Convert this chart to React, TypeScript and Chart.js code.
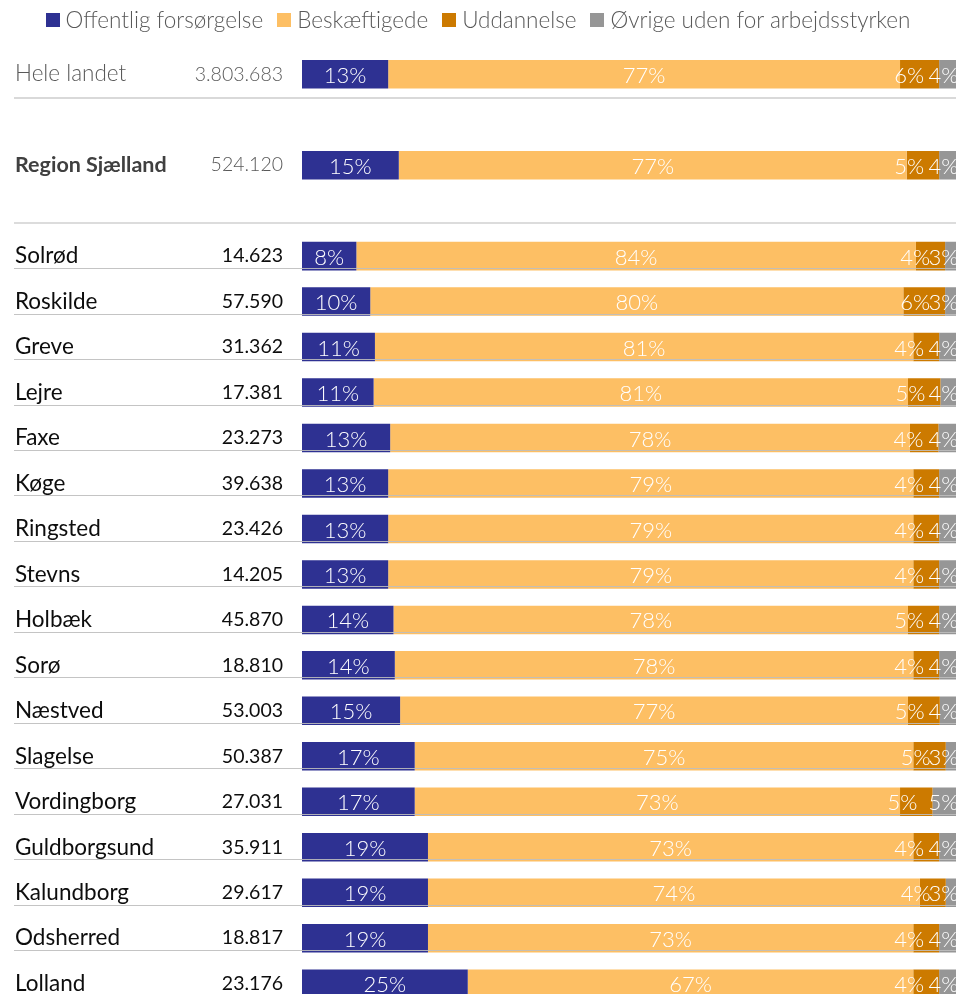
import React, { useEffect, useRef } from "react";
import { Chart, registerables } from "chart.js";

Chart.register(...registerables);

const names = [
  "Hele landet", "", "Region Sjælland", "", "Solrød", "Roskilde", "Greve", "Lejre", "Faxe", "Køge",
  "Ringsted", "Stevns", "Holbæk", "Sorø", "Næstved", "Slagelse", "Vordingborg", "Guldborgsund",
  "Kalundborg", "Odsherred", "Lolland",
];
const population = [
  3803683, null, 524120, null, 14623, 57590, 31362, 17381, 23273, 39638, 23426, 14205, 45870, 18810,
  53003, 50387, 27031, 35911, 29617, 18817, 23176,
];
const offentlig = [13.0, null, 14.6, null, 8.2, 10.3, 11.0, 10.8, 13.3, 13.0, 13.0, 13.0, 13.8, 14.0, 14.8, 17.0, 17.0, 19.0, 19.0, 19.0, 25.0];
const beskaeftigede = [77.2, null, 76.6, null, 84.4, 80.4, 81.2, 80.6, 78.4, 79.2, 79.2, 79.2, 77.6, 78.2, 76.6, 75.2, 73.2, 73.2, 74.2, 73.2, 67.2];
const uddannelse = [5.9, null, 4.9, null, 4.4, 6.3, 3.9, 4.9, 4.3, 3.9, 3.9, 3.9, 4.7, 3.9, 4.8, 4.9, 4.9, 3.9, 3.9, 3.9, 3.9];
const oevrige = [3.9, null, 3.9, null, 3.0, 3.0, 3.9, 3.7, 4.0, 3.9, 3.9, 3.9, 3.9, 3.9, 3.8, 2.9, 4.9, 3.9, 2.9, 3.9, 3.9];

const seriesNames = ["Offentlig forsørgelse", "Beskæftigede", "Uddannelse", "Øvrige uden for arbejdsstyrken"];
const seriesColors = ["#2E3192", "#FDBF64", "#CC7A00", "#969696"];

const FONT = "Lato";

function fmtThousands(v: number | null): string {
  if (v == null) return "";
  return String(v).replace(/\B(?=(\d{3})+(?!\d))/g, ".");
}
const populationLabels = population.map(fmtThousands);

function rowColor(i: number): string {
  if (i === 0) return "#595959";
  if (i === 2) return "#404040";
  return "#0d0d0d";
}

const valueLabelPlugin = {
  id: "valueLabels",
  afterDatasetsDraw(chart: any) {
    const ctx = chart.ctx;
    ctx.save();
    ctx.font = `300 22px ${FONT}`;
    ctx.fillStyle = "#ffffff";
    ctx.textAlign = "center";
    ctx.textBaseline = "middle";
    chart.data.datasets.forEach((ds: any, di: number) => {
      const meta = chart.getDatasetMeta(di);
      meta.data.forEach((bar: any, j: number) => {
        const v = ds.data[j];
        if (v == null) return;
        let x = (bar.x + bar.base) / 2;
        if (di === 2) x = bar.x - 30;
        if (di === 3) x = bar.x - 21.5;
        ctx.fillText(Math.round(v) + "%", x, bar.y + 1.5);
      });
    });
    ctx.restore();
  },
};

const rulesPlugin = {
  id: "rowRules",
  afterDatasetsDraw(chart: any) {
    const ctx = chart.ctx;
    const y = chart.scales.y;
    const right = chart.width;
    ctx.save();
    const line = (yy: number, color: string, w: number) => {
      ctx.strokeStyle = color;
      ctx.lineWidth = w;
      ctx.beginPath();
      ctx.moveTo(14, yy);
      ctx.lineTo(right, yy);
      ctx.stroke();
    };
    for (let i = 0; i < names.length; i++) {
      const c = y.getPixelForValue(i);
      if (i === 0) line(Math.round(c + 24), "#d9d9d9", 2);
      else if (i === 3) line(Math.round(c + 12), "#d0d0d0", 1.5);
      else if (i > 3) line(Math.round(c + 12) + 0.5, "rgba(190,190,190,0.9)", 1);
    }
    ctx.restore();
  },
};

export default function App() {
  const ref = useRef<HTMLCanvasElement | null>(null);

  useEffect(() => {
    if (!ref.current) return;
    const datasets = [offentlig, beskaeftigede, uddannelse, oevrige].map((d, i) => ({
      label: seriesNames[i],
      data: d,
      backgroundColor: seriesColors[i],
      borderWidth: 0,
      barPercentage: 0.627,
      categoryPercentage: 1,
    }));
    const chart = new Chart(ref.current, {
      type: "bar",
      data: { labels: names, datasets: datasets as any },
      options: {
        indexAxis: "y",
        animation: false,
        responsive: false,
        devicePixelRatio: 1,
        layout: { padding: { left: 15, right: 15, top: 51.5, bottom: 13.6 } },
        plugins: { legend: { display: false }, tooltip: { enabled: false } },
        scales: {
          x: { stacked: true, min: 0, max: 100, display: false },
          y: {
            stacked: true,
            position: "left",
            weight: 1,
            grid: { display: false, drawTicks: false, tickLength: 0 },
            border: { display: false },
            ticks: {
              crossAlign: "far",
              padding: 0,
              autoSkip: false,
              color: (c: any) => rowColor(c.index),
              font: (c: any) =>
                c.index === 2
                  ? { family: FONT, size: 21.5, weight: "bold" }
                  : { family: FONT, size: 22.5, weight: c.index === 0 ? "300" : "400" },
            },
            afterFit: (s: any) => {
              s.width = 175;
              s.paddingTop = 0;
              s.paddingBottom = 0;
            },
          },
          yNum: {
            type: "category",
            labels: populationLabels,
            position: "left",
            weight: 0,
            grid: { display: false, drawTicks: false, tickLength: 0 },
            border: { display: false },
            ticks: {
              crossAlign: "near",
              padding: 19,
              autoSkip: false,
              color: (c: any) => (c.index <= 2 ? "#595959" : "#0d0d0d"),
              font: (c: any) => ({ family: FONT, size: 19.5, weight: c.index <= 2 ? "300" : "400" }),
            },
            afterFit: (s: any) => {
              s.width = 112;
              s.paddingTop = 0;
              s.paddingBottom = 0;
            },
          },
        } as any,
      },
      plugins: [rulesPlugin, valueLabelPlugin],
    });
    return () => chart.destroy();
  }, []);

  return (
    <div
      style={{
        position: "fixed",
        left: 0,
        top: 0,
        width: 956,
        height: 994,
        overflow: "hidden",
        background: "#ffffff",
      }}
    >
      <canvas
        ref={ref}
        width={980}
        height={1020}
        style={{ position: "absolute", left: 0, top: 0, width: 980, height: 1020 }}
      />
      <div
        style={{
          position: "absolute",
          left: 0,
          top: 6,
          width: 956,
          display: "flex",
          justifyContent: "center",
          alignItems: "center",
          gap: 14,
          fontFamily: FONT,
          fontWeight: 300,
          fontSize: 22.5,
          color: "#595959",
          lineHeight: "28px",
          whiteSpace: "nowrap",
        }}
      >
        {seriesNames.map((n, i) => (
          <div key={n} style={{ display: "flex", alignItems: "center" }}>
            <span
              style={{
                display: "inline-block",
                width: 14,
                height: 14,
                background: seriesColors[i],
                marginRight: 6,
              }}
            />
            <span>{n}</span>
          </div>
        ))}
      </div>
    </div>
  );
}
